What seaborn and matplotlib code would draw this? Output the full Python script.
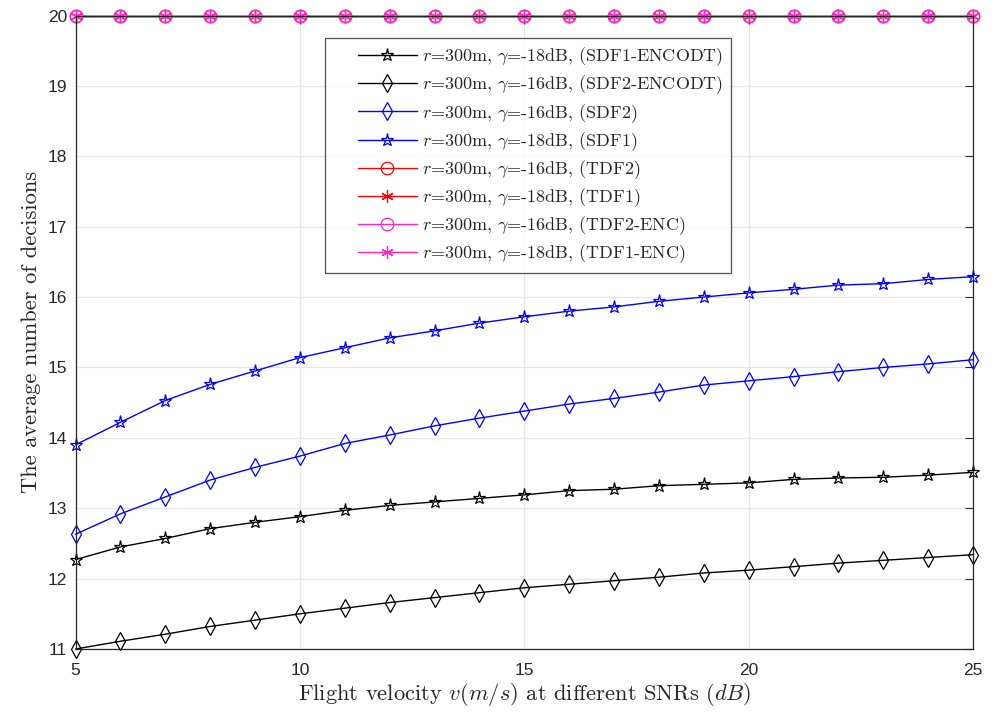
import numpy as np
import pandas as pd
import matplotlib
matplotlib.use("Agg")
import matplotlib.pyplot as plt
from matplotlib.lines import Line2D
from matplotlib.legend_handler import HandlerLine2D
import seaborn as sns

velocity = list(range(5, 26))

sdf1_encodt = [12.27, 12.45, 12.57, 12.71, 12.80, 12.88, 12.97, 13.04, 13.09, 13.14, 13.19,
               13.25, 13.27, 13.32, 13.34, 13.36, 13.41, 13.43, 13.44, 13.47, 13.51]
sdf2_encodt = [11.00, 11.11, 11.21, 11.32, 11.41, 11.50, 11.58, 11.66, 11.73, 11.80, 11.87,
               11.92, 11.97, 12.02, 12.08, 12.12, 12.17, 12.22, 12.26, 12.30, 12.34]
sdf2 = [12.63, 12.92, 13.16, 13.40, 13.58, 13.74, 13.92, 14.04, 14.17, 14.28, 14.38,
        14.48, 14.56, 14.65, 14.75, 14.81, 14.87, 14.94, 15.00, 15.05, 15.11]
sdf1 = [13.90, 14.22, 14.53, 14.76, 14.95, 15.14, 15.28, 15.42, 15.52, 15.63, 15.72,
        15.80, 15.86, 15.94, 16.00, 16.06, 16.11, 16.17, 16.19, 16.25, 16.29]
tdf2 = [20] * 21
tdf1 = [20] * 21
tdf2_enc = [20] * 21
tdf1_enc = [20] * 21

labels = [
    r"$r$=300m, $\gamma$=-18dB, (SDF1-ENCODT)",
    r"$r$=300m, $\gamma$=-16dB, (SDF2-ENCODT)",
    r"$r$=300m, $\gamma$=-16dB, (SDF2)",
    r"$r$=300m, $\gamma$=-18dB, (SDF1)",
    r"$r$=300m, $\gamma$=-16dB, (TDF2)",
    r"$r$=300m, $\gamma$=-18dB, (TDF1)",
    r"$r$=300m, $\gamma$=-16dB, (TDF2-ENC)",
    r"$r$=300m, $\gamma$=-18dB, (TDF1-ENC)",
]
series = [sdf1_encodt, sdf2_encodt, sdf2, sdf1, tdf2, tdf1, tdf2_enc, tdf1_enc]

MAG = "#ff22cc"
ASTER = (6, 2, 0)
styles = [
    dict(color="black", marker="*", ms=9.5),
    dict(color="black", marker="d", ms=9),
    dict(color="blue", marker="d", ms=9),
    dict(color="blue", marker="*", ms=9.5),
    dict(color="red", marker="o", ms=9),
    dict(color="red", marker=ASTER, ms=9),
    dict(color=MAG, marker="o", ms=9),
    dict(color=MAG, marker=ASTER, ms=9),
]


class ShiftedHandler(HandlerLine2D):
    def __init__(self, shift=0.0, **kw):
        super().__init__(**kw)
        self.shift = shift

    def create_artists(self, legend, orig_handle, xdescent, ydescent, width, height,
                       fontsize, trans):
        s = self.shift * fontsize
        return super().create_artists(legend, orig_handle, xdescent - s, ydescent,
                                      width - s, height, fontsize, trans)


sns.set_theme(style="white")
plt.rcParams["font.family"] = ["cmr10", "DejaVu Serif"]
plt.rcParams["mathtext.fontset"] = "cm"
plt.rcParams["axes.unicode_minus"] = False

fig = plt.figure(figsize=(10, 7.15), dpi=100)
ax = fig.add_axes([0.0755, 0.0923, 0.8975, 0.886])

for lab, vals, st in zip(labels, series, styles):
    df = pd.DataFrame({"v": velocity, "n": vals})
    sns.lineplot(data=df, x="v", y="n", ax=ax, color=st["color"], marker=st["marker"],
                 markersize=st["ms"], markerfacecolor="none", markeredgecolor=st["color"],
                 markeredgewidth=0.9, linewidth=1.0, label=lab, clip_on=False)

ax.set_xlim(5, 25)
ax.set_ylim(11, 20)
ax.set_xticks([5, 10, 15, 20, 25])
ax.set_yticks(range(11, 21))
ax.set_xticklabels([str(v) for v in [5, 10, 15, 20, 25]])
ax.set_yticklabels([str(v) for v in range(11, 21)])
ax.grid(True, color="#e6e6e6", linewidth=0.9)
for s in ax.spines.values():
    s.set_color("#262626")
    s.set_linewidth(0.9)
ax.tick_params(direction="in", length=6, width=0.8, color="#262626",
               top=True, right=True, labelsize=12.5)
ax.tick_params(axis="x", pad=10)
ax.tick_params(axis="y", pad=6)
for t in ax.get_xticklabels() + ax.get_yticklabels():
    t.set_fontfamily("Liberation Sans")
    t.set_color("#262626")

ax.set_xlabel(r"Flight velocity $v(m/s)$ at different SNRs ($dB$)", fontsize=16.2,
              color="#262626", labelpad=2)
ax.set_ylabel("The average number of decisions", fontsize=16.2, color="#262626",
              labelpad=5)

leg = ax.legend(loc="upper left", bbox_to_anchor=(0.278, 0.9645), fontsize=13.0,
                handlelength=4.7, handletextpad=0.27, labelspacing=0.3,
                frameon=True, fancybox=False, edgecolor="#262626", borderpad=0.42,
                borderaxespad=0.0,
                handler_map={Line2D: ShiftedHandler(shift=1.38)})
leg.get_frame().set_linewidth(0.9)

fig.savefig("out.png", dpi=100, facecolor="white")
